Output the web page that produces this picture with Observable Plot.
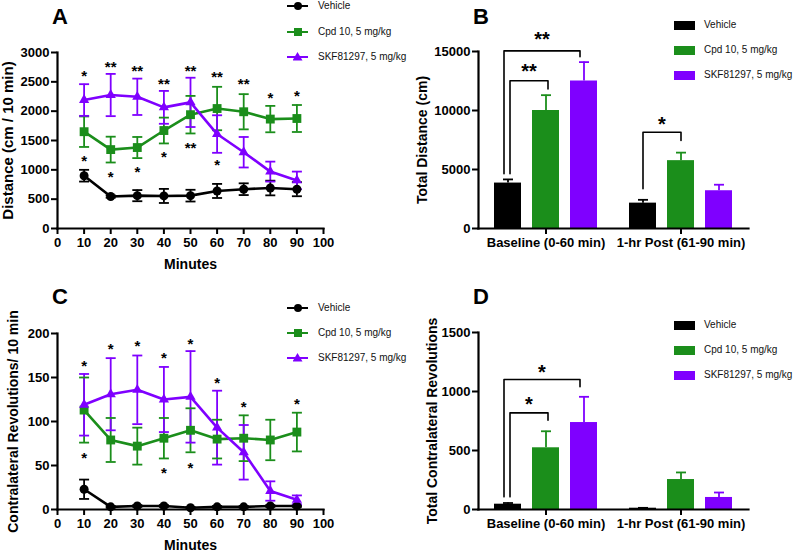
<!DOCTYPE html>
<html><head><meta charset="utf-8">
<script src="https://cdn.jsdelivr.net/npm/d3@7"></script>
<script src="https://cdn.jsdelivr.net/npm/@observablehq/plot@0.6"></script>
<style>
body{margin:0;background:#fff;font-family:"Liberation Sans",Arial,Helvetica,sans-serif;}
#wrap{position:relative;width:800px;height:553px;overflow:hidden;background:#fff;}
.panel{position:absolute;}
.abs{position:absolute;}
.letter{position:absolute;font-weight:bold;font-size:22px;line-height:22px;color:#000;}
.legtext{position:absolute;font-size:10px;line-height:12px;height:12px;color:#111;white-space:nowrap;}
</style>
</head><body>
<div id="wrap">
  <div class="panel" id="pA" style="left:0;top:0"></div>
  <div class="panel" id="pB" style="left:400px;top:0"></div>
  <div class="panel" id="pC" style="left:0;top:281px"></div>
  <div class="panel" id="pD" style="left:400px;top:281px"></div>
  <div class="letter" style="left:52px;top:6px">A</div>
  <div class="letter" style="left:473px;top:6px">B</div>
  <div class="letter" style="left:52px;top:286px">C</div>
  <div class="letter" style="left:473px;top:286px">D</div>
</div>
<script>
const FONT = '"Liberation Sans", Arial, Helvetica, sans-serif';

// ---- shared ----
const minutes = [10, 20, 30, 40, 50, 60, 70, 80, 90];
const minuteTicks = [0, 10, 20, 30, 40, 50, 60, 70, 80, 90, 100];
const seriesNames = ["Vehicle", "Cpd 10, 5 mg/kg", "SKF81297, 5 mg/kg"];
const seriesColors = ["#000000", "#1b8e1b", "#7f00ff"];
const seriesSymbols = ["circle", "square", "triangle"];
const periods = ["Baseline (0-60 min)", "1-hr Post (61-90 min)"];

// ---- A: distance per 10 min ----
const distVehicle = [900, 545, 560, 555, 560, 640, 670, 690, 670];
const distVehicleErr = [100, 20, 95, 120, 100, 120, 100, 125, 120];
const distCpd = [1650, 1345, 1380, 1670, 1940, 2045, 1990, 1865, 1875];
const distCpdErr = [260, 220, 180, 220, 320, 370, 300, 225, 230];
const distSkf = [2190, 2275, 2245, 2065, 2150, 1610, 1300, 970, 820];
const distSkfErr = [270, 360, 310, 280, 420, 320, 260, 170, 150];
const distTicks = [0, 500, 1000, 1500, 2000, 2500, 3000];
const distStarMinutes = [10, 20, 30, 40, 50, 60, 70, 80, 90, 10, 20, 30, 40, 50, 60];
const distStarLabels = ["*", "**", "**", "**", "**", "**", "**", "*", "*", "*", "*", "*", "*", "**", "*"];
const distStarLevels = [2672, 2813, 2745, 2530, 2756, 2643, 2536, 2292, 2321, 1217, 951, 1030, 1285, 1443, 1143];

// ---- B: total distance ----
const totDistBaseline = [3850, 10000, 12500];
const totDistBaselineErr = [310, 1300, 1600];
const totDistPost = [2150, 5750, 3200];
const totDistPostErr = [280, 680, 510];
const totDistTicks = [0, 5000, 10000, 15000];
const distBracketPeriod = [0, 0, 1];
const distBracketFrom = [0, 0, 0];
const distBracketTo = [2, 1, 1];
const distBracketLeft = [4640, 4640, 3377];
const distBracketTop = [15056, 12523, 8162];
const distBracketRight = [14550, 11820, 7458];
const distBracketLabels = ["**", "**", "*"];
const distBracketLabelLevels = [16400, 13715, 9230];

// ---- C: revolutions per 10 min ----
const revVehicle = [23, 3, 4, 4, 2, 3, 3, 4, 4];
const revVehicleErr = [11, 1, 1, 1, 1, 1, 1, 1, 1];
const revCpd = [113, 79, 72, 81, 90, 80, 81, 79, 88];
const revCpdErr = [37, 25, 21, 23, 25, 22, 26, 23, 22];
const revSkf = [119, 131, 136, 125, 128, 93, 65, 21, 11];
const revSkfErr = [35, 41, 39, 37, 52, 42, 31, 11, 5];
const revTicks = [0, 50, 100, 150, 200];
const revStarMinutes = [10, 20, 30, 40, 50, 60, 70, 90, 10, 40, 50];
const revStarLabels = ["*", "*", "*", "*", "*", "*", "*", "*", "*", "*", "*"];
const revStarLevels = [167, 187, 190, 176, 192, 148, 121, 124, 63, 46, 51];

// ---- D: total revolutions ----
const totRevBaseline = [45, 523, 737];
const totRevBaselineErr = [10, 140, 218];
const totRevPost = [11, 254, 102];
const totRevPostErr = [3, 60, 42];
const totRevTicks = [0, 500, 1000, 1500];
const revBracketPeriod = [0, 0];
const revBracketFrom = [0, 0];
const revBracketTo = [2, 1];
const revBracketLeft = [107, 107];
const revBracketTop = [1102, 819];
const revBracketRight = [1040, 757];
const revBracketLabels = ["*", "*"];
const revBracketLabelLevels = [1203, 932];

// ---------- helpers ----------
const capSymbol = {draw(ctx) { ctx.moveTo(-5, 0); ctx.lineTo(5, 0); }};
const markerR = {"Vehicle": 4.5, "Cpd 10, 5 mg/kg": 5, "SKF81297, 5 mg/kg": 3.8};

function linePanel({values, errs, ticks, yMax, starMinutes, starLabels, starLevels, label, labelOffset, height, marginTop, marginBottom, labelSize}) {
  const rows = seriesNames.flatMap((s, k) => minutes.map((m, i) => ({series: s, minute: m, value: values[k][i], err: errs[k][i]})));
  const stars = starMinutes.map((m, i) => ({minute: m, level: starLevels[i], label: starLabels[i]}));
  return Plot.plot({
    width: 400, height, marginLeft: 57, marginRight: 77, marginTop, marginBottom,
    style: {fontFamily: FONT, fontSize: "13px", fontWeight: "bold", color: "#000", background: "transparent", overflow: "visible"},
    x: {domain: [0, 100]},
    y: {domain: [0, yMax]},
    color: {domain: seriesNames, range: seriesColors},
    symbol: {domain: seriesNames, range: seriesSymbols},
    r: {type: "identity"},
    marks: [
      Plot.ruleX(rows, {x: "minute", y1: d => d.value - d.err, y2: d => d.value + d.err, stroke: "series", strokeWidth: 1.8}),
      Plot.dot(rows, {x: "minute", y: d => d.value + d.err, symbol: capSymbol, stroke: "series", fill: "none", strokeWidth: 1.8}),
      Plot.dot(rows, {x: "minute", y: d => d.value - d.err, symbol: capSymbol, stroke: "series", fill: "none", strokeWidth: 1.8}),
      Plot.line(rows, {x: "minute", y: "value", z: "series", stroke: "series", strokeWidth: 2.6}),
      Plot.dot(rows, {x: "minute", y: "value", symbol: "series", fill: "series", stroke: "none", r: d => markerR[d.series]}),
      Plot.text(stars, {x: "minute", y: "level", text: "label", fontSize: 15, fontWeight: "bold", dy: 4}),
      Plot.frame({anchor: "left", strokeWidth: 2.2}),
      Plot.frame({anchor: "bottom", strokeWidth: 2.2}),
      Plot.axisY({ticks, tickSize: 6, tickPadding: 2, strokeWidth: 2, tickFormat: d => String(d), label: null, fontSize: 13, fontWeight: "bold"}),
      Plot.axisY({ticks: [], tickSize: 0, label, labelAnchor: "center", labelArrow: false, labelOffset, fontSize: labelSize, fontWeight: "bold"}),
      Plot.axisX({ticks: minuteTicks, tickSize: 6, tickPadding: 3, strokeWidth: 2, tickFormat: d => String(d), label: null, fontSize: 13, fontWeight: "bold"}),
      Plot.axisX({ticks: [], tickSize: 0, label: "Minutes", labelAnchor: "center", labelArrow: false, labelOffset: 40, fontSize: 14, fontWeight: "bold"})
    ]
  });
}

function barPanel({baseline, baselineErr, post, postErr, ticks, yMax, br, label, labelOffset, height, marginTop, marginBottom}) {
  const rows = [];
  seriesNames.forEach((s, k) => rows.push({period: periods[0], series: s, value: baseline[k], err: baselineErr[k]}));
  seriesNames.forEach((s, k) => rows.push({period: periods[1], series: s, value: post[k], err: postErr[k]}));
  const bracketMarks = br.period.flatMap((p, i) => {
    const from = seriesNames[br.from[i]], to = seriesNames[br.to[i]], period = periods[p];
    const pts = [
      {period, x: from, y: br.left[i]}, {period, x: from, y: br.top[i]},
      {period, x: to, y: br.top[i]}, {period, x: to, y: br.right[i]}
    ];
    return [
      Plot.line(pts, {fx: "period", x: "x", y: "y", stroke: "#000", strokeWidth: 1.6, dx: br.lineDx[i]}),
      Plot.text([{period, x: from, y: br.levels[i], t: br.labels[i]}], {fx: "period", x: "x", y: "y", text: "t", fontSize: 20, fontWeight: "bold", dx: br.labelDx[i], dy: 5})
    ];
  });
  return Plot.plot({
    width: 400, height, marginLeft: 78, marginRight: 52, marginTop, marginBottom,
    style: {fontFamily: FONT, fontSize: "13px", fontWeight: "bold", color: "#000", background: "transparent", overflow: "visible"},
    fx: {domain: periods, paddingInner: 0, paddingOuter: 0},
    x: {domain: seriesNames, paddingInner: 0.29, paddingOuter: 0.42, axis: null},
    y: {domain: [0, yMax]},
    color: {domain: seriesNames, range: seriesColors},
    marks: [
      Plot.barY(rows, {fx: "period", x: "series", y: "value", fill: "series"}),
      Plot.ruleX(rows, {fx: "period", x: "series", y1: "value", y2: d => d.value + d.err, stroke: "series", strokeWidth: 1.8}),
      Plot.dot(rows, {fx: "period", x: "series", y: d => d.value + d.err, symbol: capSymbol, stroke: "series", fill: "none", strokeWidth: 1.8}),
      ...bracketMarks,
      Plot.frame({anchor: "left", facet: "super", strokeWidth: 2.2}),
      Plot.frame({anchor: "bottom", facet: "super", strokeWidth: 2.2}),
      Plot.axisY({ticks, tickSize: 6, tickPadding: 2, strokeWidth: 2, tickFormat: d => String(d), label: null, fontSize: 13, fontWeight: "bold"}),
      Plot.axisY({ticks: [], tickSize: 0, label, labelAnchor: "center", labelArrow: false, labelOffset, fontSize: 14, fontWeight: "bold"}),
      Plot.axisFx({anchor: "bottom", tickSize: 6, tickPadding: 3, strokeWidth: 2, label: null, fontSize: 13, fontWeight: "bold"})
    ]
  });
}

document.getElementById("pA").append(linePanel({
  values: [distVehicle, distCpd, distSkf], errs: [distVehicleErr, distCpdErr, distSkfErr],
  ticks: distTicks, yMax: 3000, starMinutes: distStarMinutes, starLabels: distStarLabels, starLevels: distStarLevels,
  label: "Distance (cm / 10 min)", labelOffset: 55, labelSize: 15, height: 275, marginTop: 52, marginBottom: 47
}));
document.getElementById("pC").append(linePanel({
  values: [revVehicle, revCpd, revSkf], errs: [revVehicleErr, revCpdErr, revSkfErr],
  ticks: revTicks, yMax: 200, starMinutes: revStarMinutes, starLabels: revStarLabels, starLevels: revStarLevels,
  label: "Contralateral Revolutions/ 10 min", labelOffset: 49, labelSize: 14, height: 272, marginTop: 52, marginBottom: 44
}));
document.getElementById("pB").append(barPanel({
  baseline: totDistBaseline, baselineErr: totDistBaselineErr, post: totDistPost, postErr: totDistPostErr,
  ticks: totDistTicks, yMax: 15000,
  br: {period: distBracketPeriod, from: distBracketFrom, to: distBracketTo, left: distBracketLeft, top: distBracketTop,
       right: distBracketRight, labels: distBracketLabels, levels: distBracketLabelLevels, lineDx: [-4, 2, 0], labelDx: [34, 21, 19]},
  label: "Total Distance (cm)", labelOffset: 61, height: 275, marginTop: 51, marginBottom: 47
}));
document.getElementById("pD").append(barPanel({
  baseline: totRevBaseline, baselineErr: totRevBaselineErr, post: totRevPost, postErr: totRevPostErr,
  ticks: totRevTicks, yMax: 1500,
  br: {period: revBracketPeriod, from: revBracketFrom, to: revBracketTo, left: revBracketLeft, top: revBracketTop,
       right: revBracketRight, labels: revBracketLabels, levels: revBracketLabelLevels, lineDx: [-4, 2], labelDx: [34, 21]},
  label: "Total Contralateral Revolutions", labelOffset: 51, height: 272, marginTop: 51, marginBottom: 44
}));

// ---------- legends (HTML) ----------
const wrap = document.getElementById("wrap");
function box(styles, text) {
  const d = document.createElement("div");
  d.className = text != null ? "legtext" : "abs";
  Object.assign(d.style, styles);
  if (text != null) d.textContent = text;
  wrap.append(d);
  return d;
}
function lineLegend(left, centers) {
  seriesNames.forEach((name, k) => {
    const cy = centers[k], col = seriesColors[k], cx = left + 10.5;
    box({left: left + "px", top: (cy - 1.3) + "px", width: "21px", height: "2.6px", background: col});
    if (seriesSymbols[k] === "circle") box({left: (cx - 4) + "px", top: (cy - 4) + "px", width: "8px", height: "8px", borderRadius: "50%", background: col});
    else if (seriesSymbols[k] === "square") box({left: (cx - 4) + "px", top: (cy - 4) + "px", width: "8px", height: "8px", background: col});
    else box({left: (cx - 5) + "px", top: (cy - 5) + "px", width: "10px", height: "8.5px", background: col, clipPath: "polygon(50% 0, 100% 100%, 0 100%)"});
    box({left: (left + 31) + "px", top: (cy - 6) + "px"}, name);
  });
}
function barLegend(left, centers) {
  seriesNames.forEach((name, k) => {
    const cy = centers[k];
    box({left: left + "px", top: (cy - 4.5) + "px", width: "21px", height: "9px", background: seriesColors[k]});
    box({left: (left + 30) + "px", top: (cy - 6) + "px"}, name);
  });
}
lineLegend(287, [6, 32, 57]);
lineLegend(287, [308, 333, 358]);
barLegend(674, [25, 50, 75]);
barLegend(674, [325, 350, 375]);
</script>
</body></html>
